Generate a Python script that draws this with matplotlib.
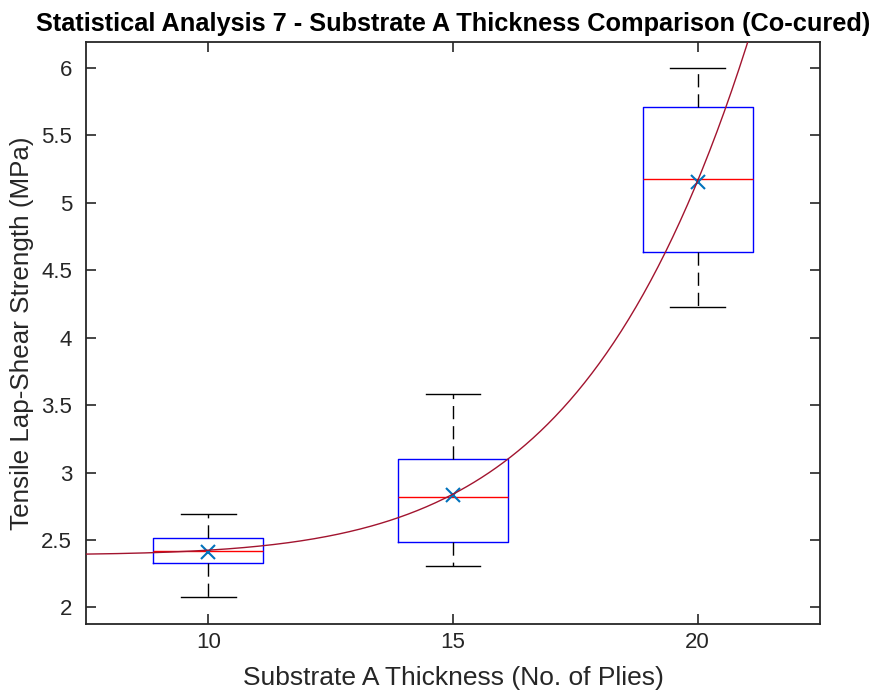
import numpy as np
import matplotlib.pyplot as plt
from matplotlib.ticker import FormatStrFormatter

plt.rcParams['font.family'] = ['Liberation Sans', 'DejaVu Sans']
plt.rcParams['lines.scale_dashes'] = False

# box statistics (MPa)
plies = [10, 15, 20]
q1 = [2.326, 2.485, 4.635]
med = [2.417, 2.815, 5.175]
q3 = [2.515, 3.10, 5.705]
whis_lo = [2.077, 2.31, 4.225]
whis_hi = [2.69, 3.58, 6.00]
means = [2.41, 2.835, 5.155]

# power fit y = a*x^b + c
fit_a = 1.66e-8
fit_b = 6.32
fit_c = 2.39

dark = '#262626'

fig = plt.figure(figsize=(8.76, 6.95), dpi=100)
ax = fig.add_axes([0.0982, 0.1026, 0.8378, 0.8370])

stats = []
for i in range(len(plies)):
    stats.append(dict(med=med[i], q1=q1[i], q3=q3[i], whislo=whis_lo[i],
                      whishi=whis_hi[i], mean=means[i], fliers=[]))

ax.bxp(stats, positions=plies, widths=2.25, capwidths=1.12, showmeans=True,
       boxprops=dict(color='#0000FF', linewidth=1),
       medianprops=dict(color='#FF0000', linewidth=1),
       whiskerprops=dict(color='black', linewidth=1, linestyle=(0, (9.5, 5))),
       capprops=dict(color='black', linewidth=1),
       meanprops=dict(marker='x', markeredgecolor='#0072BD', markersize=10,
                      markeredgewidth=1.5, linestyle='none'),
       manage_ticks=False)

xf = np.linspace(7.5, 22.5, 400)
ax.plot(xf, fit_a * xf**fit_b + fit_c, color='#A2142F', linewidth=1, zorder=5)

ax.set_xlim(7.5, 22.5)
ax.set_ylim(1.88, 6.19)
ax.set_xticks(plies)
ax.set_yticks(np.arange(2, 6.01, 0.5))
ax.yaxis.set_major_formatter(FormatStrFormatter('%g'))
ax.tick_params(direction='in', length=7, width=1.2, colors=dark, labelsize=16,
               top=True, right=True)
ax.tick_params(axis='x', pad=6)
ax.tick_params(axis='y', pad=10)
for s in ax.spines.values():
    s.set_color(dark)
    s.set_linewidth(1.3)

ax.set_xlabel('Substrate A Thickness (No. of Plies)', fontsize=19, color=dark,
              labelpad=9)
ax.set_ylabel('Tensile Lap-Shear Strength (MPa)', fontsize=18.7, color=dark,
              labelpad=5)
ax.set_title('Statistical Analysis 7 - Substrate A Thickness Comparison (Co-cured)',
             fontsize=18.3, fontweight='bold', pad=8)

fig.savefig('out.png', dpi=100)
